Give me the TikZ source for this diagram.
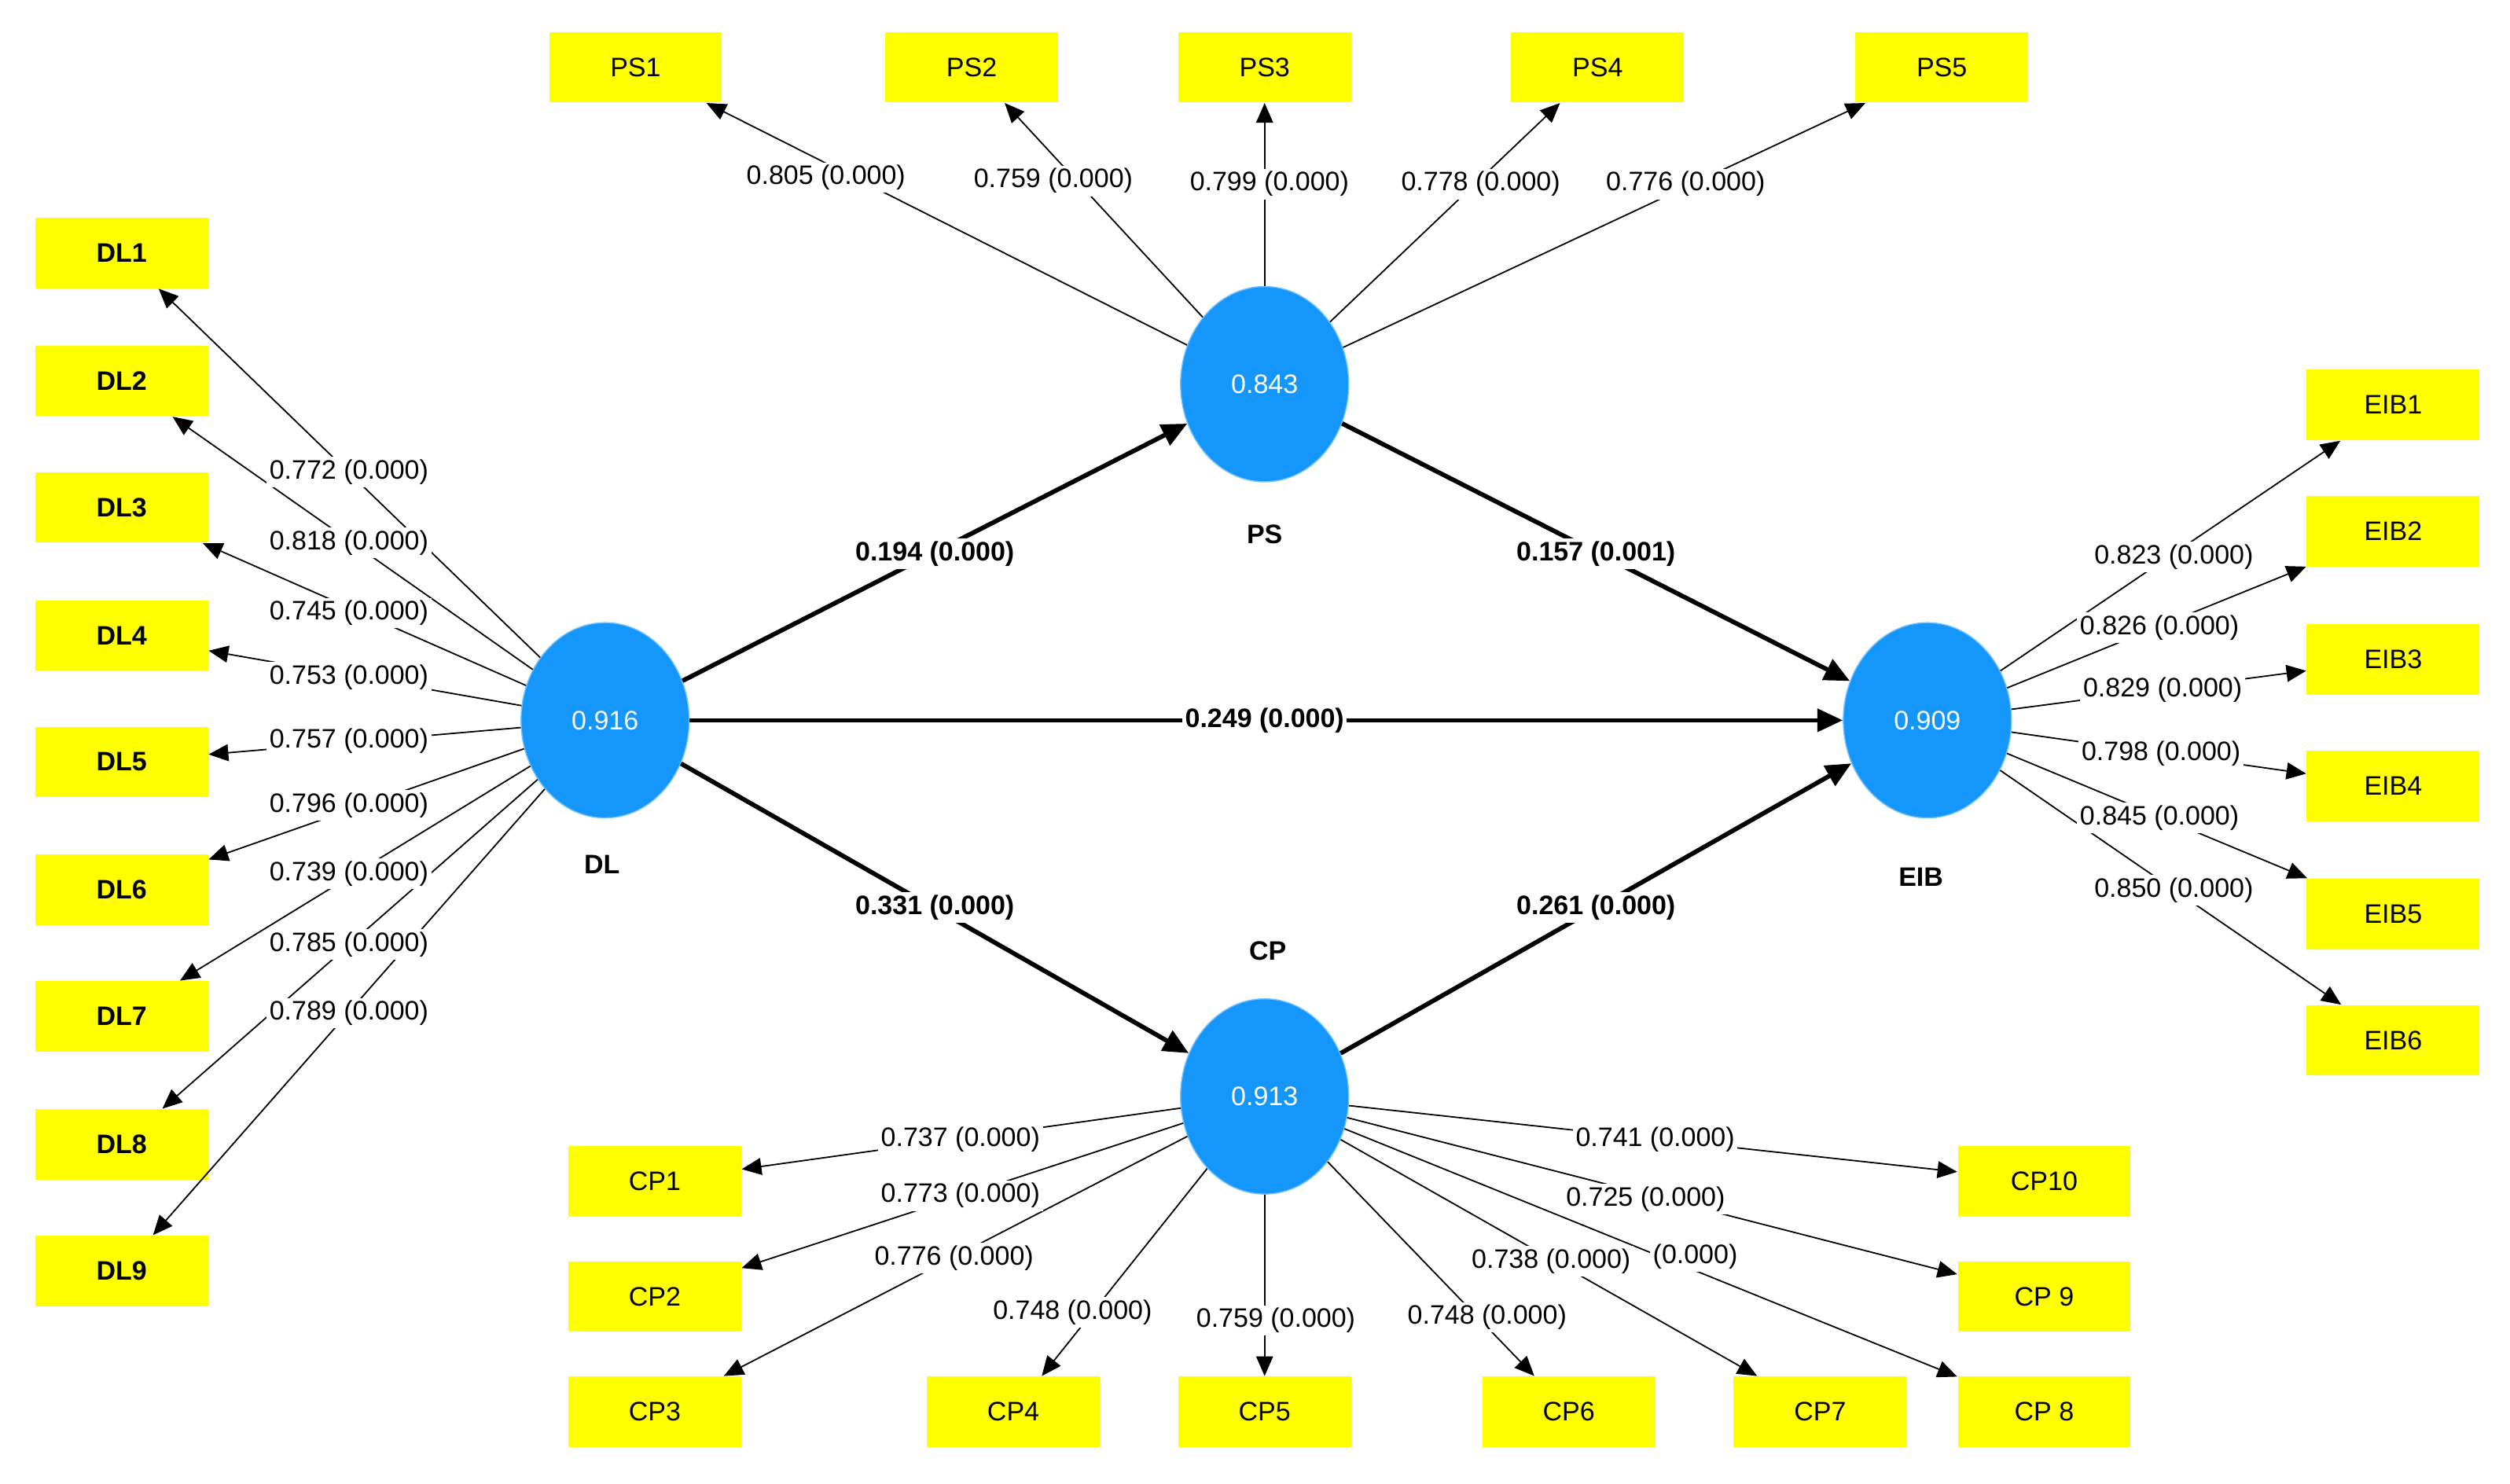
\documentclass[tikz,border=0pt]{standalone}
\usepackage{fontspec}
\setmainfont{Liberation Sans}
\usetikzlibrary{arrows.meta,shapes.geometric}
\definecolor{yel}{RGB}{255,255,0}
\definecolor{lv}{RGB}{20,150,250}
\begin{document}
\begin{tikzpicture}[x=0.02cm,y=-0.02cm,
 box/.style={fill=yel,minimum width=2.16cm,minimum height=0.88cm,inner sep=0pt,font=\fontsize{9.5}{11}\selectfont},
 bbox/.style={box,font=\fontsize{9.5}{11}\selectfont\bfseries},
 lv/.style={ellipse,fill=lv,draw=lv!60,minimum width=2.1cm,minimum height=2.44cm,text=white,font=\fontsize{9.5}{11}\selectfont},
 ld/.style={-{Triangle[length=7pt,width=6pt]},line width=0.5pt},
 pth/.style={-{Triangle[length=9pt,width=8pt]},line width=1.6pt},
 lab/.style={fill=white,inner sep=1pt,font=\fontsize{9.5}{11}\selectfont},
 plab/.style={lab,font=\fontsize{9.5}{11}\selectfont\bfseries},
 nm/.style={font=\fontsize{9.5}{11}\selectfont\bfseries}]
\useasboundingbox (0,0) rectangle (1568,927);
\fill[white] (0,0) rectangle (1568,927);
% latent
\node[lv] (DL) at (378,450) {0.916};
\node[lv] (PS) at (790,240) {0.843};
\node[lv] (EIB) at (1204,450) {0.909};
\node[lv] (CP) at (790,685) {0.913};
\node[nm] (nDL) at (376,540) {DL};
\node[nm] (nPS) at (790,334) {PS};
\node[nm] (nEIB) at (1200,548) {EIB};
\node[nm] (nCP) at (792,594) {CP};
% DL boxes
\foreach \i/\y in {1/158,2/238,3/317,4/397,5/476,6/556,7/635,8/715,9/794}
  \node[bbox] (DL\i) at (76,\y) {DL\i};
\foreach \i/\x in {1/397,2/607,3/790,4/998,5/1213}
  \node[box] (PS\i) at (\x,42) {PS\i};
\foreach \i/\y in {1/253,2/332,3/412,4/491,5/571,6/650}
  \node[box] (EIB\i) at (1495,\y) {EIB\i};
\node[box] (CP1) at (409,738) {CP1};
\node[box] (CP2) at (409,810) {CP2};
\node[box] (CP3) at (409,882) {CP3};
\node[box] (CP4) at (633,882) {CP4};
\node[box] (CP5) at (790,882) {CP5};
\node[box] (CP6) at (980,882) {CP6};
\node[box] (CP7) at (1137,882) {CP7};
\node[box] (CP8) at (1277,882) {CP 8};
\node[box] (CP9) at (1277,810) {CP 9};
\node[box] (CP10) at (1277,738) {CP10};
% loadings
\foreach \i in {1,...,9} \draw[ld] (DL) -- (DL\i);
\foreach \i in {1,...,5} \draw[ld] (PS) -- (PS\i);
\foreach \i in {1,...,6} \draw[ld] (EIB) -- (EIB\i);
\foreach \i in {1,...,10} \draw[ld] (CP) -- (CP\i);
% structural
\draw[pth] (DL) -- (PS);
\draw[pth] (DL) -- (EIB);
\draw[pth] (DL) -- (CP);
\draw[pth] (PS) -- (EIB);
\draw[pth] (CP) -- (EIB);
\node[plab] (p1) at (584,346) {0.194 (0.000)};
\node[plab] (p2) at (790,450) {0.249 (0.000)};
\node[plab] (p3) at (584,567) {0.331 (0.000)};
\node[plab] (p4) at (997,346) {0.157 (0.001)};
\node[plab] (p5) at (997,567) {0.261 (0.000)};
% loading labels
\foreach \v/\y [count=\k] in {0.772/295,0.818/339,0.745/383,0.753/423,0.757/463,0.796/503,0.739/546,0.785/590,0.789/633}
  \node[lab] (ld\k) at (218,\y) {\v\ (0.000)};
\foreach \v/\x/\y [count=\k] in {0.805/516/111,0.759/658/113,0.799/793/115,0.778/925/115,0.776/1053/115}
  \node[lab] (lp\k) at (\x,\y) {\v\ (0.000)};
\foreach \v/\x/\y [count=\k] in {0.823/1358/348,0.826/1349/392,0.829/1351/431,0.798/1350/471,0.845/1349/511,0.850/1358/556}
  \node[lab] (le\k) at (\x,\y) {\v\ (0.000)};
\node[lab] (lc8) at (1059,785) {(0.000)};
\foreach \v/\x/\y [count=\k] in {0.737/600/712,0.773/600/747,0.776/596/786,0.748/670/820,0.759/797/825,0.748/929/823,0.738/969/788,0.741/1034/712,0.725/1028/749}
  \node[lab] (lc\k) at (\x,\y) {\v\ (0.000)};
\end{tikzpicture}
\end{document}
